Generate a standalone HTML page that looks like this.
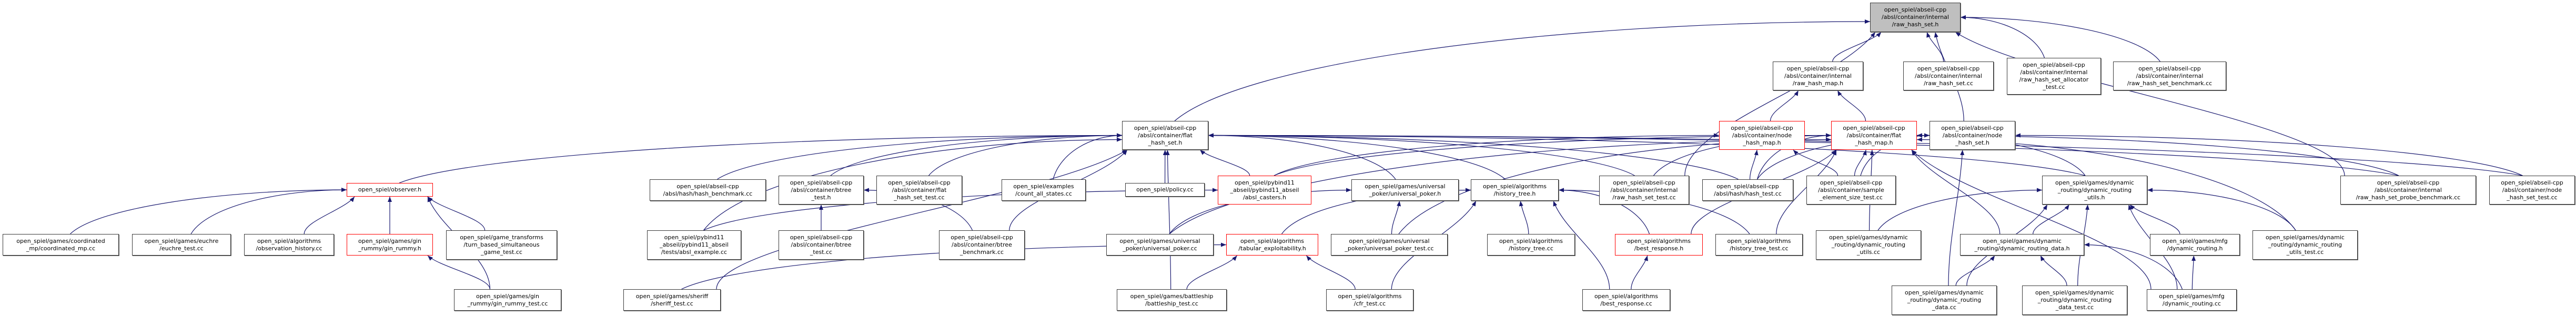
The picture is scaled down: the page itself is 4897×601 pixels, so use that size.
<!DOCTYPE html>
<html><head><meta charset="utf-8"><style>
html,body{margin:0;padding:0;background:#fff;}
#wrap{position:relative;width:4897px;height:601px;overflow:hidden;background:#fff;}
.n{position:absolute;box-sizing:border-box;border:1px solid #3a3a3a;background:#fff;display:flex;align-items:center;justify-content:center;text-align:center;font-family:"DejaVu Sans","Liberation Sans",sans-serif;font-size:11px;line-height:14px;color:#000;white-space:nowrap;box-shadow:1px 1px 0 #666;z-index:2;}
.r{border-color:#ff0000;box-shadow:none;}
.g{background:#bfbfbf;}
svg{position:absolute;left:0;top:0;z-index:1;}
</style></head><body><div id="wrap">
<svg id="s" width="4897" height="601"><defs><marker id="a" markerUnits="userSpaceOnUse" markerWidth="11" markerHeight="8" refX="10" refY="4" orient="auto"><path d="M0,0 L10,4 L0,8 z" fill="#191970"/></marker></defs><g id="eg" fill="none" stroke="#191970" stroke-width="1.2"></g></svg>
<div class="n g" id="root" style="left:3555px;top:5px;width:172px;height:56px">open_spiel/abseil-cpp<br>/absl/container/internal<br>/raw_hash_set.h</div>
<div class="n" id="rhm" style="left:3370px;top:117px;width:172px;height:55px">open_spiel/abseil-cpp<br>/absl/container/internal<br>/raw_hash_map.h</div>
<div class="n" id="rhscc" style="left:3618px;top:117px;width:172px;height:55px">open_spiel/abseil-cpp<br>/absl/container/internal<br>/raw_hash_set.cc</div>
<div class="n" id="alloc" style="left:3815px;top:110px;width:179px;height:70px">open_spiel/abseil-cpp<br>/absl/container/internal<br>/raw_hash_set_allocator<br>_test.cc</div>
<div class="n" id="bench" style="left:4017px;top:117px;width:215px;height:55px">open_spiel/abseil-cpp<br>/absl/container/internal<br>/raw_hash_set_benchmark.cc</div>
<div class="n r" id="nhm" style="left:3268px;top:230px;width:163px;height:55px">open_spiel/abseil-cpp<br>/absl/container/node<br>_hash_map.h</div>
<div class="n r" id="fhm" style="left:3481px;top:230px;width:163px;height:55px">open_spiel/abseil-cpp<br>/absl/container/flat<br>_hash_map.h</div>
<div class="n" id="nhs" style="left:3668px;top:230px;width:163px;height:55px">open_spiel/abseil-cpp<br>/absl/container/node<br>_hash_set.h</div>
<div class="n" id="fhs" style="left:2133px;top:230px;width:164px;height:55px">open_spiel/abseil-cpp<br>/absl/container/flat<br>_hash_set.h</div>
<div class="n r" id="obs" style="left:659px;top:348px;width:164px;height:26px">open_spiel/observer.h</div>
<div class="n" id="hashbench" style="left:1235px;top:341px;width:221px;height:41px">open_spiel/abseil-cpp<br>/absl/hash/hash_benchmark.cc</div>
<div class="n" id="btreeh" style="left:1480px;top:334px;width:162px;height:55px">open_spiel/abseil-cpp<br>/absl/container/btree<br>_test.h</div>
<div class="n" id="fhstest" style="left:1666px;top:334px;width:163px;height:55px">open_spiel/abseil-cpp<br>/absl/container/flat<br>_hash_set_test.cc</div>
<div class="n" id="count" style="left:1904px;top:341px;width:160px;height:41px">open_spiel/examples<br>/count_all_states.cc</div>
<div class="n" id="policy" style="left:2139px;top:348px;width:151px;height:26px">open_spiel/policy.cc</div>
<div class="n r" id="casters" style="left:2315px;top:334px;width:178px;height:55px">open_spiel/pybind11<br>_abseil/pybind11_abseil<br>/absl_casters.h</div>
<div class="n" id="uph" style="left:2569px;top:341px;width:204px;height:41px">open_spiel/games/universal<br>_poker/universal_poker.h</div>
<div class="n" id="hth" style="left:2796px;top:341px;width:167px;height:41px">open_spiel/algorithms<br>/history_tree.h</div>
<div class="n" id="rhstest" style="left:3040px;top:334px;width:171px;height:55px">open_spiel/abseil-cpp<br>/absl/container/internal<br>/raw_hash_set_test.cc</div>
<div class="n" id="hashtest" style="left:3236px;top:341px;width:173px;height:41px">open_spiel/abseil-cpp<br>/absl/hash/hash_test.cc</div>
<div class="n" id="sample" style="left:3434px;top:334px;width:170px;height:55px">open_spiel/abseil-cpp<br>/absl/container/sample<br>_element_size_test.cc</div>
<div class="n" id="druh" style="left:3882px;top:334px;width:200px;height:55px">open_spiel/games/dynamic<br>_routing/dynamic_routing<br>_utils.h</div>
<div class="n" id="probe" style="left:4449px;top:334px;width:258px;height:55px">open_spiel/abseil-cpp<br>/absl/container/internal<br>/raw_hash_set_probe_benchmark.cc</div>
<div class="n" id="nhstest" style="left:4732px;top:334px;width:163px;height:55px">open_spiel/abseil-cpp<br>/absl/container/node<br>_hash_set_test.cc</div>
<div class="n" id="coord" style="left:5px;top:445px;width:221px;height:41px">open_spiel/games/coordinated<br>_mp/coordinated_mp.cc</div>
<div class="n" id="euchre" style="left:251px;top:445px;width:188px;height:41px">open_spiel/games/euchre<br>/euchre_test.cc</div>
<div class="n" id="obshist" style="left:464px;top:445px;width:171px;height:41px">open_spiel/algorithms<br>/observation_history.cc</div>
<div class="n r" id="ginh" style="left:659px;top:445px;width:164px;height:41px">open_spiel/games/gin<br>_rummy/gin_rummy.h</div>
<div class="n" id="turn" style="left:848px;top:438px;width:211px;height:56px">open_spiel/game_transforms<br>/turn_based_simultaneous<br>_game_test.cc</div>
<div class="n" id="abslex" style="left:1230px;top:438px;width:179px;height:56px">open_spiel/pybind11<br>_abseil/pybind11_abseil<br>/tests/absl_example.cc</div>
<div class="n" id="btreecc" style="left:1480px;top:438px;width:162px;height:56px">open_spiel/abseil-cpp<br>/absl/container/btree<br>_test.cc</div>
<div class="n" id="btreebench" style="left:1785px;top:438px;width:163px;height:56px">open_spiel/abseil-cpp<br>/absl/container/btree<br>_benchmark.cc</div>
<div class="n" id="upcc" style="left:2103px;top:445px;width:204px;height:41px">open_spiel/games/universal<br>_poker/universal_poker.cc</div>
<div class="n r" id="tab" style="left:2331px;top:445px;width:175px;height:41px">open_spiel/algorithms<br>/tabular_exploitability.h</div>
<div class="n" id="uptest" style="left:2530px;top:445px;width:222px;height:41px">open_spiel/games/universal<br>_poker/universal_poker_test.cc</div>
<div class="n" id="htcc" style="left:2827px;top:445px;width:167px;height:41px">open_spiel/algorithms<br>/history_tree.cc</div>
<div class="n r" id="brh" style="left:3070px;top:445px;width:167px;height:41px">open_spiel/algorithms<br>/best_response.h</div>
<div class="n" id="httest" style="left:3261px;top:445px;width:166px;height:41px">open_spiel/algorithms<br>/history_tree_test.cc</div>
<div class="n" id="drucc" style="left:3452px;top:438px;width:200px;height:56px">open_spiel/games/dynamic<br>_routing/dynamic_routing<br>_utils.cc</div>
<div class="n" id="drdh" style="left:3726px;top:445px;width:236px;height:41px">open_spiel/games/dynamic<br>_routing/dynamic_routing_data.h</div>
<div class="n" id="mfgh" style="left:4087px;top:445px;width:171px;height:41px">open_spiel/games/mfg<br>/dynamic_routing.h</div>
<div class="n" id="drutest" style="left:4282px;top:438px;width:200px;height:56px">open_spiel/games/dynamic<br>_routing/dynamic_routing<br>_utils_test.cc</div>
<div class="n" id="gintest" style="left:863px;top:550px;width:204px;height:41px">open_spiel/games/gin<br>_rummy/gin_rummy_test.cc</div>
<div class="n" id="sheriff" style="left:1185px;top:550px;width:185px;height:41px">open_spiel/games/sheriff<br>/sheriff_test.cc</div>
<div class="n" id="battle" style="left:2123px;top:550px;width:209px;height:41px">open_spiel/games/battleship<br>/battleship_test.cc</div>
<div class="n" id="cfr" style="left:2521px;top:550px;width:166px;height:41px">open_spiel/algorithms<br>/cfr_test.cc</div>
<div class="n" id="brcc" style="left:3008px;top:550px;width:167px;height:41px">open_spiel/algorithms<br>/best_response.cc</div>
<div class="n" id="drdcc" style="left:3596px;top:543px;width:200px;height:56px">open_spiel/games/dynamic<br>_routing/dynamic_routing<br>_data.cc</div>
<div class="n" id="drdtest" style="left:3844px;top:543px;width:200px;height:56px">open_spiel/games/dynamic<br>_routing/dynamic_routing<br>_data_test.cc</div>
<div class="n" id="mfgcc" style="left:4081px;top:550px;width:171px;height:41px">open_spiel/games/mfg<br>/dynamic_routing.cc</div>
</div>
<script>
(function(){
var E=[['rhm','root'],['rhscc','root'],['alloc','root'],['bench','root'],['probe','root'],['fhs','root'],['nhs','root'],['rhstest','root'],
['nhm','rhm'],['fhm','rhm'],
['obs','fhs'],['hashbench','fhs'],['btreeh','fhs'],['fhstest','fhs'],['count','fhs'],['abslex','fhs'],['btreebench','fhs'],['sheriff','fhs'],['battle','fhs'],['policy','fhs'],['casters','fhs'],['uph','fhs'],['hth','fhs'],['rhstest','fhs'],['hashtest','fhs'],['druh','fhs'],['nhstest','fhs'],['probe','fhs'],
['coord','obs'],['euchre','obs'],['obshist','obs'],['ginh','obs'],['turn','obs'],['gintest','obs'],['gintest','ginh'],
['btreecc','btreeh'],['btreebench','btreeh'],['abslex','casters'],['upcc','uph'],['uptest','uph'],
['tab','hth'],['htcc','hth'],['cfr','hth'],['httest','hth'],['brh','hth'],['brcc','hth'],
['battle','tab'],['cfr','tab'],['sheriff','tab'],['brcc','brh'],
['casters','nhm'],['hashtest','nhm'],['sample','nhm'],
['casters','fhm'],['hashtest','fhm'],['sample','fhm'],['rhstest','fhm'],['druh','fhm'],['drucc','fhm'],['brh','fhm'],['httest','fhm'],['drdh','fhm'],['probe','fhm'],['upcc','fhm'],['uptest','fhm'],['drutest','fhm'],['mfgcc','fhm'],
['sample','nhs'],['hashtest','nhs'],['drdcc','nhs'],['nhstest','nhs'],
['drucc','druh'],['drdh','druh'],['drdtest','druh'],['mfgh','druh'],['mfgcc','druh'],['drutest','druh'],['drdcc','druh'],
['drdcc','drdh'],['drdtest','drdh'],['mfgcc','drdh'],['mfgcc','mfgh']];
function b(id){var e=document.getElementById(id);var l=e.offsetLeft,t=e.offsetTop,w=e.offsetWidth,h=e.offsetHeight;return{l:l,t:t,r:l+w,b:t+h,cx:l+w/2,cy:t+h/2};}
var g=document.getElementById('eg'),ns='http://www.w3.org/2000/svg';
E.forEach(function(p){var c=b(p[0]),q=b(p[1]);
 var sx,sy,ex,ey,d;
 var dy=c.t-q.b; var dx=c.cx-q.cx;
 if(Math.abs(dx)>4*Math.max(dy,20)&&(c.cx<q.l||c.cx>q.r)){
  sx=c.cx+(dx>0?-1:1)*Math.min(c.r-c.l,60)*0.3; sy=c.t;
  ex=dx>0?q.r:q.l; ey=q.cy+(dx>0?1:-1)*0+((c.t-q.t)>150?8:0);
  var k=(ex-sx);
  d='M'+sx+','+sy+' C'+(sx+k*0.1)+','+(sy-(sy-ey)*0.6)+' '+(ex-k*0.45)+','+ey+' '+ex+','+ey;
 } else {
  sx=c.cx+(q.cx-c.cx)*0.15; sx=Math.max(c.l+8,Math.min(c.r-8,sx)); sy=c.t;
  ex=q.cx+(c.cx-q.cx)*0.35; ex=Math.max(q.l+10,Math.min(q.r-10,ex)); ey=q.b;
  var h=sy-ey;
  d='M'+sx+','+sy+' C'+sx+','+(sy-h*0.35)+' '+(ex+(sx-ex)*0.2)+','+(ey+h*0.35)+' '+ex+','+ey;
 }
 var pa=document.createElementNS(ns,'path');pa.setAttribute('d',d);pa.setAttribute('marker-end','url(#a)');g.appendChild(pa);
});
})();
</script>
</body></html>
